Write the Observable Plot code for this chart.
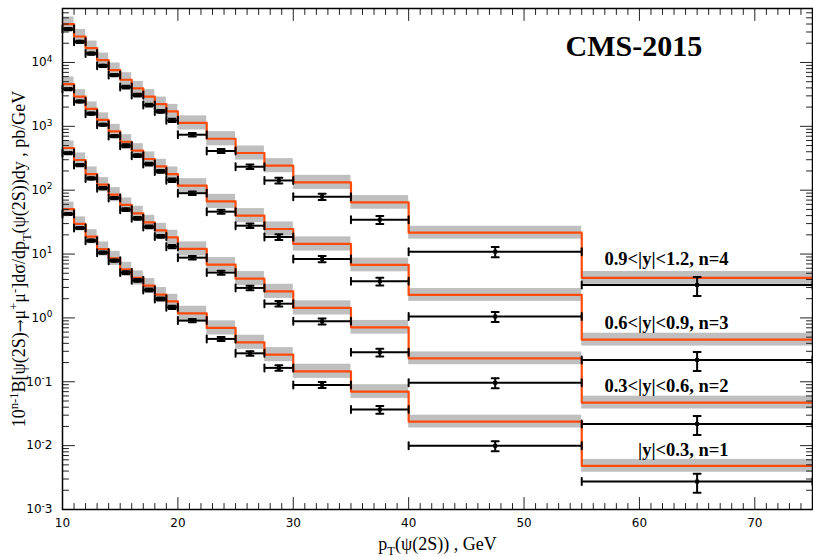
<!DOCTYPE html>
<html>
<head>
<meta charset="utf-8">
<script src="https://cdn.jsdelivr.net/npm/d3@7"></script>
<script src="https://cdn.jsdelivr.net/npm/@observablehq/plot@0.6"></script>
<style>
  body { margin: 0; background: #fff; }
  #chart svg { display: block; }
</style>
</head>
<body>
<div id="chart"></div>
<script>
// pT bin edges (GeV)
const binEdges = [10, 11, 12, 13, 14, 15, 16, 17, 18, 19, 20, 22.5, 25, 27.5, 30, 35, 40, 55, 75];

// Rapidity ranges; series n is drawn scaled by 10^(n-1)
const rapidityLabels = ["|y|<0.3, n=1", "0.3<|y|<0.6, n=2", "0.6<|y|<0.9, n=3", "0.9<|y|<1.2, n=4"];

// Measured B·dσ/dpTdy (pb/GeV), unscaled
const dataN1 = [42.4, 25.6, 16.2, 10.5, 7.88, 5.12, 3.88, 2.74, 1.98, 1.465, 0.907, 0.469, 0.279, 0.165, 0.0894, 0.0367, 0.00993, 0.00274];
const dataN2 = [38.2, 24.8, 15.3, 10.75, 7.55, 4.95, 3.62, 2.66, 1.89, 1.306, 0.878, 0.512, 0.295, 0.167, 0.0885, 0.0289, 0.00965, 0.00219];
const dataN3 = [38.4, 24.5, 15.8, 10.6, 7.05, 4.97, 3.47, 2.57, 1.97, 1.434, 0.898, 0.461, 0.278, 0.185, 0.0838, 0.0374, 0.0105, 0.0022];
const dataN4 = [33.3, 21.1, 13.8, 8.88, 6.35, 4.12, 3.09, 2.15, 1.71, 1.24, 0.739, 0.411, 0.233, 0.142, 0.0791, 0.0345, 0.0109, 0.00328];

// Relative uncertainty of the measured points, per pT bin
const dataRelErr = [0.04, 0.04, 0.04, 0.04, 0.04, 0.05, 0.05, 0.05, 0.05, 0.06, 0.06, 0.07, 0.08, 0.10, 0.11, 0.14, 0.18, 0.33];

// Theory prediction per bin, unscaled
const theoryN1 = [50.4, 29.6, 18.7, 12.0, 8.56, 5.76, 4.23, 3.20, 2.32, 1.82, 1.18, 0.697, 0.415, 0.266, 0.146, 0.0703, 0.0238, 0.00483];
const theoryN2 = [45.8, 29.7, 17.9, 12.2, 8.50, 5.87, 4.34, 3.13, 2.35, 1.825, 1.202, 0.683, 0.412, 0.261, 0.1434, 0.0713, 0.0233, 0.00472];
const theoryN3 = [45.9, 29.1, 18.7, 12.6, 8.32, 5.74, 4.15, 3.08, 2.36, 1.79, 1.176, 0.668, 0.399, 0.247, 0.144, 0.0675, 0.0229, 0.00457];
const theoryN4 = [39.9, 25.5, 16.8, 10.9, 7.61, 5.36, 3.92, 2.91, 2.23, 1.71, 1.13, 0.639, 0.382, 0.242, 0.1325, 0.0644, 0.0216, 0.00423];

// Multiplicative width of the theory uncertainty band, per bin
const theoryBandFactor = [1.29, 1.29, 1.29, 1.29, 1.29, 1.29, 1.29, 1.29, 1.29, 1.29, 1.29, 1.29, 1.29, 1.29, 1.29, 1.28, 1.26, 1.26];

// Axis ticks
const xMajorTicks = [10, 20, 30, 40, 50, 60, 70];
const yExponents = [-3, -2, -1, 0, 1, 2, 3, 4];

const dataSeries = [dataN1, dataN2, dataN3, dataN4];
const theorySeries = [theoryN1, theoryN2, theoryN3, theoryN4];

// Assemble per-bin rows
const rows = [];
dataSeries.forEach((vals, s) => {
  const n = s + 1, scale = Math.pow(10, n - 1);
  vals.forEach((v, i) => {
    const lo = binEdges[i], hi = binEdges[i + 1];
    rows.push({
      n, lo, hi, mid: (lo + hi) / 2,
      v: v * scale,
      e: dataRelErr[i],
      t: theorySeries[s][i] * scale,
      k: theoryBandFactor[i]
    });
  });
});

// Step outline of each theory histogram
const stepPoints = [];
theorySeries.forEach((vals, s) => {
  const scale = Math.pow(10, s);
  vals.forEach((t, i) => stepPoints.push({n: s + 1, x: binEdges[i], y: t * scale}));
  stepPoints.push({n: s + 1, x: binEdges[binEdges.length - 1], y: vals[vals.length - 1] * scale});
});

const edgeTicks = rows.flatMap(d => [{x: d.lo, y: d.v}, {x: d.hi, y: d.v}]);
const capTicks = rows.flatMap(d => [{x: d.mid, y: d.v * (1 - d.e)}, {x: d.mid, y: d.v * (1 + d.e)}]);

const yMajor = yExponents.map(e => Math.pow(10, e));
const yMinor = [];
for (const e of yExponents) for (let m = 2; m <= 9; m++) {
  const v = m * Math.pow(10, e);
  if (v <= 7e4) yMinor.push(v);
}
const xMinor = d3.range(11, 75).filter(d => d % 10 !== 0);

// Power-of-ten labels; the exponent is raised after rendering
const powerLabel = v => "10^" + Math.round(Math.log10(v));

// A plain line segment from the anchor point, used for tick marks and caps
const segment = {draw(context, l) { context.moveTo(0, 0); context.lineTo(0, -l); }};
const tickStyle = {shape: segment, anchor: "start", stroke: "#222", strokeWidth: 1};

const serif = "'Liberation Serif', 'Times New Roman', serif";
const sans = "'DejaVu Sans', sans-serif";

const X_TITLE = "p_T(\u03C8(2S)) , GeV";
const Y_TITLE = "10^{n-1}B[\u03C8(2S)\u2192\u03BC^+\u03BC^-]d\u03C3/dp_T(\u03C8(2S))dy , pb/GeV";

const chart = Plot.plot({
  width: 813,
  height: 557,
  marginLeft: 62,
  marginRight: 1,
  marginTop: 8,
  marginBottom: 48,
  style: {background: "#fff", color: "#000"},
  x: {domain: [10, 75]},
  y: {type: "log", domain: [1e-3, 7e4]},
  marks: [
    // theory uncertainty bands
    Plot.rect(rows, {x1: "lo", x2: "hi", y1: d => d.t / d.k, y2: d => d.t * d.k, fill: "#bfbfbf", clip: true}),
    // theory central values
    Plot.line(stepPoints, {x: "x", y: "y", z: "n", curve: "step-after", stroke: "#ff4a0a", strokeWidth: 2.2, clip: true}),
    // measured points: bin width, error bar, caps, bin-edge ticks, marker
    Plot.ruleY(rows, {x1: "lo", x2: "hi", y: "v", stroke: "#000", strokeWidth: 2}),
    Plot.vector(edgeTicks, {x: "x", y: "y", length: 7, rotate: 0, shape: segment, anchor: "middle", stroke: "#000", strokeWidth: 2}),
    Plot.ruleX(rows, {x: "mid", y1: d => d.v * (1 - d.e), y2: d => d.v * (1 + d.e), stroke: "#000", strokeWidth: 2}),
    Plot.vector(capTicks, {x: "x", y: "y", length: 7, rotate: 90, shape: segment, anchor: "middle", stroke: "#000", strokeWidth: 2}),
    Plot.dot(rows, {x: "mid", y: "v", symbol: "square", r: 2.2, fill: "#000"}),

    // inward tick marks on all four sides
    Plot.vector(xMajorTicks, {x: d => d, frameAnchor: "bottom", length: 12, rotate: 0, ...tickStyle}),
    Plot.vector(xMinor, {x: d => d, frameAnchor: "bottom", length: 6, rotate: 0, ...tickStyle}),
    Plot.vector(xMajorTicks, {x: d => d, frameAnchor: "top", length: 12, rotate: 180, ...tickStyle}),
    Plot.vector(xMinor, {x: d => d, frameAnchor: "top", length: 6, rotate: 180, ...tickStyle}),
    Plot.vector(yMajor, {y: d => d, frameAnchor: "left", length: 12, rotate: 90, ...tickStyle}),
    Plot.vector(yMinor, {y: d => d, frameAnchor: "left", length: 6, rotate: 90, ...tickStyle}),
    Plot.vector(yMajor, {y: d => d, frameAnchor: "right", length: 12, rotate: -90, ...tickStyle}),
    Plot.vector(yMinor, {y: d => d, frameAnchor: "right", length: 6, rotate: -90, ...tickStyle}),
    Plot.frame({stroke: "#000", strokeWidth: 1.5}),

    // tick labels
    Plot.axisX({ticks: xMajorTicks, tickSize: 0, tickPadding: 9, label: null, fontSize: 12, fontFamily: sans, tickFormat: d => String(d)}),
    Plot.axisY({ticks: yMajor, tickSize: 0, tickPadding: 10, label: null, fontSize: 12, fontFamily: sans, tickFormat: powerLabel}),

    // axis titles
    Plot.text([X_TITLE], {frameAnchor: "bottom", dy: 40, lineAnchor: "bottom", textAnchor: "middle", fontSize: 18, fontFamily: serif}),
    Plot.text([Y_TITLE], {frameAnchor: "left", dx: -43, rotate: -90, lineAnchor: "middle", textAnchor: "middle", fontSize: 18, fontFamily: serif}),

    // experiment tag
    Plot.text(["CMS-2015"], {frameAnchor: "top-left", dx: 503, dy: 47, lineAnchor: "bottom", textAnchor: "start",
      fontSize: 30, fontWeight: "bold", fontFamily: serif}),

    // rapidity labels above each theory curve
    Plot.text(rapidityLabels, {y: (d, i) => 0.0068 * Math.pow(10, i), frameAnchor: "right", dx: -84, textAnchor: "end",
      lineAnchor: "bottom", fontSize: 18.5, fontWeight: "bold", fontFamily: serif})
  ]
});

document.getElementById("chart").appendChild(chart);

// Turn "^x" / "^{..}" and "_x" markup into raised or lowered tspans;
// the arrow gets a font with a full-size glyph
function applyScripts(el, fs, supShift, subShift, scale) {
  const src = el.textContent;
  const re = /([\^_])(\{[^}]*\}|.)|(\u2192)/g;
  const parts = [];
  let last = 0, m;
  while ((m = re.exec(src))) {
    if (m.index > last) parts.push([src.slice(last, m.index), null]);
    if (m[3]) parts.push([m[3], "arrow"]);
    else {
      const body = m[2].startsWith("{") ? m[2].slice(1, -1) : m[2];
      parts.push([body, m[1] === "^" ? "sup" : "sub"]);
    }
    last = re.lastIndex;
  }
  if (last < src.length) parts.push([src.slice(last), null]);
  el.textContent = "";
  let shift = 0;
  for (const [str, kind] of parts) {
    const t = document.createElementNS("http://www.w3.org/2000/svg", "tspan");
    const target = kind === "sup" ? -supShift * fs : kind === "sub" ? subShift * fs : 0;
    t.setAttribute("dy", String(target - shift));
    shift = target;
    if (kind === "sup" || kind === "sub") t.setAttribute("font-size", String(scale * fs));
    if (kind === "arrow") {
      t.setAttribute("font-family", "'DejaVu Serif', serif");
      t.setAttribute("font-size", String(0.85 * fs));
    }
    t.textContent = str;
    el.appendChild(t);
  }
}
for (const el of chart.querySelectorAll("text")) {
  const s = el.textContent;
  if (s === X_TITLE || s === Y_TITLE) applyScripts(el, 18, 0.4, 0.3, 0.7);
  else if (/^10\^-?\d$/.test(s)) applyScripts(el, 12, 0.38, 0, 0.75);
}
</script>
</body>
</html>
